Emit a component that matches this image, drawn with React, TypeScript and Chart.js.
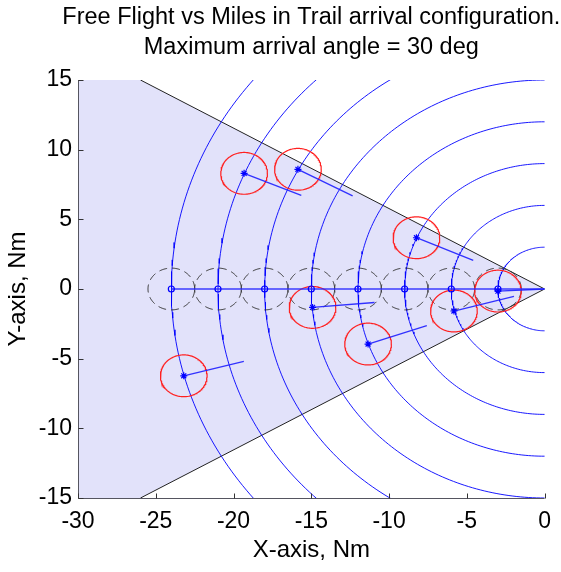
import React, { useEffect, useRef } from 'react';
import { Chart, registerables } from 'chart.js';

Chart.register(...registerables);

// ---- data ----
const TITLE_LINES = [
  'Free Flight vs Miles in Trail arrival configuration.',
  'Maximum arrival angle = 30 deg',
];
const X_LABEL = 'X-axis, Nm';
const Y_LABEL = 'Y-axis, Nm';
const X_MIN = -30;
const X_MAX = 0;
const Y_MIN = -15;
const Y_MAX = 15;
const X_TICKS = [-30, -25, -20, -15, -10, -5, 0];
const Y_TICKS = [-15, -10, -5, 0, 5, 10, 15];
const MAX_ANGLE_DEG = 30;
const RING_RADII = [3, 6, 9, 12, 15, 18, 21, 24];
const PROTECT_RADIUS = 1.5;
const HEADING_LEN = 4;
// Miles-in-trail aircraft (dashed circles, 'o')
const MIT_X = [-24, -21, -18, -15, -12, -9, -6, -3];
const MIT_Y = [0, 0, 0, 0, 0, 0, 0, 0];
// Free-flight aircraft (red circles, '*')
const FF_X = [-19.32, -15.86, -8.24, -14.92, -11.35, -5.83, -3.0, -23.2];
const FF_Y = [8.3, 8.59, 3.68, -1.32, -3.95, -1.58, -0.15, -6.23];

const FONT = '"Liberation Sans", Arial, Helvetica, sans-serif';

function circlePts(cx: number, cy: number, r: number, n = 180) {
  const pts: { x: number; y: number }[] = [];
  for (let i = 0; i <= n; i++) {
    const a = (i / n) * Math.PI * 2;
    pts.push({ x: cx + r * Math.cos(a), y: cy + r * Math.sin(a) });
  }
  return pts;
}

const lineDs = (data: any[], color: string, width: number, order: number, extra: any = {}) => ({
  type: 'scatter',
  data,
  showLine: true,
  borderColor: color,
  borderWidth: width,
  pointRadius: 0,
  pointHoverRadius: 0,
  fill: false,
  tension: 0,
  order,
  ...extra,
});

const overlay = {
  id: 'overlay',
  afterDraw(chart: any) {
    const { ctx, chartArea, scales } = chart;
    const xs = scales.x;
    const ys = scales.y;
    ctx.save();
    ctx.strokeStyle = '#555560';
    ctx.lineWidth = 1;
    const left = Math.round(chartArea.left) + 0.5;
    const bottom = Math.round(chartArea.bottom) + 0.5;
    ctx.beginPath();
    ctx.moveTo(left, chartArea.top);
    ctx.lineTo(left, bottom);
    ctx.lineTo(chartArea.right, bottom);
    ctx.stroke();
    ctx.strokeStyle = '#333';
    ctx.beginPath();
    X_TICKS.forEach((v) => {
      const px = Math.round(xs.getPixelForValue(v)) + 0.5;
      ctx.moveTo(px, bottom);
      ctx.lineTo(px, bottom - 5);
    });
    Y_TICKS.forEach((v) => {
      const py = Math.round(ys.getPixelForValue(v)) + 0.5;
      ctx.moveTo(left, py);
      ctx.lineTo(left + 5, py);
    });
    ctx.stroke();
    ctx.fillStyle = '#000';
    ctx.font = `23.5px ${FONT}`;
    ctx.textAlign = 'center';
    ctx.textBaseline = 'middle';
    const cx = (chartArea.left + chartArea.right) / 2;
    ctx.fillText(TITLE_LINES[0], cx, 18);
    ctx.fillText(TITLE_LINES[1], cx, 48);
    ctx.restore();
  },
};

export default function App() {
  const ref = useRef<HTMLCanvasElement | null>(null);
  useEffect(() => {
    if (!ref.current) return;
    const edgeX = -Y_MAX / Math.tan((MAX_ANGLE_DEG * Math.PI) / 180);
    const datasets: any[] = [];
    datasets.push(
      lineDs(
        [
          { x: X_MIN, y: Y_MAX },
          { x: edgeX, y: Y_MAX },
          { x: 0, y: 0 },
        ],
        'rgba(0,0,0,0)',
        0,
        20,
        { fill: '+1', backgroundColor: 'rgb(226,226,250)' }
      )
    );
    datasets.push(
      lineDs(
        [
          { x: X_MIN, y: Y_MIN },
          { x: edgeX, y: Y_MIN },
          { x: 0, y: 0 },
        ],
        'rgba(0,0,0,0)',
        0,
        21
      )
    );
    datasets.push(lineDs([{ x: edgeX, y: Y_MAX }, { x: 0, y: 0 }, { x: edgeX, y: Y_MIN }], '#222', 1, 15));
    RING_RADII.forEach((r) => datasets.push(lineDs(circlePts(0, 0, r, 360), 'rgba(0,0,255,0.9)', 1, 12)));
    MIT_X.forEach((x, i) =>
      datasets.push(lineDs(circlePts(x, MIT_Y[i], PROTECT_RADIUS), '#333', 1, 10, { borderDash: [8, 5] }))
    );
    datasets.push(lineDs([{ x: MIT_X[0], y: 0 }, { x: 0, y: 0 }], 'rgba(40,40,255,0.9)', 1.6, 8));
    FF_X.forEach((x, i) => datasets.push(lineDs(circlePts(x, FF_Y[i], PROTECT_RADIUS), '#ff2020', 1.2, 9)));
    FF_X.forEach((x, i) => {
      const y = FF_Y[i];
      const d = Math.hypot(x, y);
      datasets.push(
        lineDs([{ x, y }, { x: x - (HEADING_LEN * x) / d, y: y - (HEADING_LEN * y) / d }], 'rgba(30,30,255,0.9)', 1.3, 7)
      );
    });
    datasets.push({
      type: 'scatter',
      data: MIT_X.map((x, i) => ({ x, y: MIT_Y[i] })),
      pointStyle: 'circle',
      pointRadius: 3,
      borderColor: '#0000ff',
      backgroundColor: 'rgba(0,0,0,0)',
      borderWidth: 1.2,
      order: 2,
    });
    datasets.push({
      type: 'scatter',
      data: FF_X.map((x, i) => ({ x, y: FF_Y[i] })),
      pointStyle: 'star',
      pointRadius: 3.5,
      borderColor: '#0000ff',
      backgroundColor: '#0000ff',
      borderWidth: 1.2,
      order: 1,
    });

    const chart = new Chart(ref.current, {
      type: 'scatter',
      data: { datasets },
      plugins: [overlay],
      options: {
        animation: false,
        responsive: false,
        events: [],
        layout: { padding: { top: 80, right: 7, left: 0, bottom: 0 } },
        plugins: {
          legend: { display: false },
          tooltip: { enabled: false },
          filler: { drawTime: 'beforeDatasetsDraw' } as any,
        },
        scales: {
          x: {
            type: 'linear',
            min: X_MIN,
            max: X_MAX,
            afterFit: (s: any) => {
              s.height = 74;
            },
            afterBuildTicks: (s: any) => {
              s.ticks = X_TICKS.map((v) => ({ value: v }));
            },
            grid: { display: false, drawTicks: false },
            border: { display: false },
            ticks: {
              padding: 10,
              color: '#000',
              font: { family: FONT, size: 23 },
              callback: (v: any) => String(v),
            },
            title: {
              display: true,
              text: X_LABEL,
              color: '#000',
              font: { family: FONT, size: 24 },
              padding: { top: 0, bottom: 7 },
            },
          },
          y: {
            type: 'linear',
            min: Y_MIN,
            max: Y_MAX,
            afterFit: (s: any) => {
              s.width = 78;
            },
            afterBuildTicks: (s: any) => {
              s.ticks = Y_TICKS.map((v) => ({ value: v }));
            },
            grid: { display: false, drawTicks: false },
            border: { display: false },
            ticks: {
              padding: 6,
              color: '#000',
              font: { family: FONT, size: 23 },
              callback: (v: any) => String(v),
            },
            title: {
              display: true,
              text: Y_LABEL,
              color: '#000',
              font: { family: FONT, size: 24 },
              padding: { top: 4, bottom: 0 },
            },
          },
        },
      } as any,
    });
    return () => chart.destroy();
  }, []);
  return (
    <div style={{ position: 'absolute', left: 0, top: 0, width: 561, height: 572, background: '#fff' }}>
      <canvas ref={ref} width={561} height={572} />
    </div>
  );
}
